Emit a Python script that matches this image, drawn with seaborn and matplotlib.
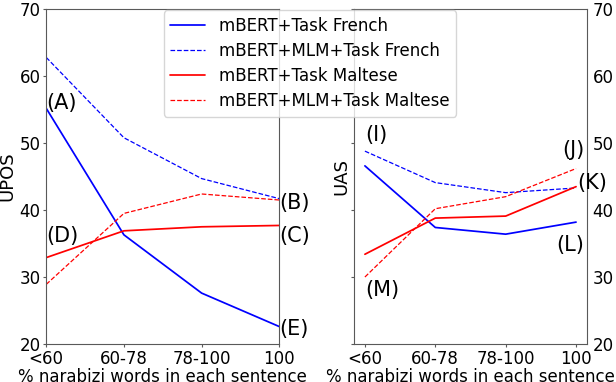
import pandas as pd
import seaborn as sns
import matplotlib
matplotlib.use("Agg")
import matplotlib.pyplot as plt

# %% data _____________________________________________________________________
bins = ['<60', '60-78', '78-100', '100']
series = ['mBERT+Task French', 'mBERT+MLM+Task French',
          'mBERT+Task Maltese', 'mBERT+MLM+Task Maltese']

upos_task_french = [55.2, 36.3, 27.6, 22.6]
upos_mlm_french = [62.8, 50.8, 44.7, 41.7]
upos_task_maltese = [32.9, 36.9, 37.5, 37.7]
upos_mlm_maltese = [28.9, 39.5, 42.4, 41.5]

uas_task_french = [46.6, 37.4, 36.4, 38.2]
uas_mlm_french = [48.8, 44.1, 42.6, 43.3]
uas_task_maltese = [33.4, 38.8, 39.1, 43.5]
uas_mlm_maltese = [30.0, 40.2, 42.0, 46.2]

upos_marks = ['(A)', '(B)', '(C)', '(D)', '(E)']
upos_mark_x = [0, 3, 3, 0, 3]
upos_mark_y = [56.0, 41.0, 36.1, 36.1, 22.2]

uas_marks = ['(I)', '(J)', '(K)', '(L)', '(M)']
uas_mark_x = [0.0, 2.81, 3.01, 2.72, 0.0]
uas_mark_y = [51.2, 49.0, 44.0, 34.8, 28.1]

colors = ['blue', 'blue', 'red', 'red']
styles = ['-', '--', '-', '--']
widths = [1.25, 0.9, 1.25, 0.9]

# %% plot _____________________________________________________________________
sns.set_style("ticks")
plt.rcParams['font.family'] = ['DejaVu Sans']
plt.rcParams['axes.edgecolor'] = '0.35'
plt.rcParams['text.color'] = 'black'
plt.rcParams['axes.labelcolor'] = 'black'
plt.rcParams['xtick.color'] = '0.35'
plt.rcParams['ytick.color'] = '0.35'
plt.rcParams['xtick.labelcolor'] = 'black'
plt.rcParams['ytick.labelcolor'] = 'black'

fig, axs = plt.subplots(1, 2, figsize=(6.16, 3.82), dpi=100)
fig.subplots_adjust(left=0.075, right=0.953, bottom=0.0995, top=0.976, wspace=0.32)

panels = [
    (axs[0], [upos_task_french, upos_mlm_french, upos_task_maltese, upos_mlm_maltese],
     'UPOS', upos_marks, upos_mark_x, upos_mark_y),
    (axs[1], [uas_task_french, uas_mlm_french, uas_task_maltese, uas_mlm_maltese],
     'UAS', uas_marks, uas_mark_x, uas_mark_y),
]

for ax, vals, ylab, marks, mx, my in panels:
    for name, v, c, ls, lw in zip(series, vals, colors, styles, widths):
        df = pd.DataFrame({'bin': bins, 'score': v})
        sns.lineplot(data=df, x='bin', y='score', color=c, linestyle=ls,
                     linewidth=lw, label=name, ax=ax, legend=False)
    for m, x, y in zip(marks, mx, my):
        ax.text(x, y, m, fontsize=15, ha='left', va='center')
    ax.set_ylim(20, 70)
    ax.set_yticks([20, 30, 40, 50, 60, 70])
    ax.set_ylabel(ylab, fontsize=13, labelpad=2)
    ax.set_xlabel('% narabizi words in each sentence', fontsize=12, labelpad=0)
    ax.tick_params(labelsize=12, pad=1.5, length=2.5)

axs[0].set_xlim(0, 3)
axs[1].set_xlim(-0.156, 3.156)
axs[1].tick_params(axis='y', left=True, right=False, labelleft=False, labelright=True)
axs[1].yaxis.labelpad = 0

handles, labels = axs[0].get_legend_handles_labels()
fig.legend(handles, labels, loc='upper center', bbox_to_anchor=(0.503, 0.995),
           fontsize=12, frameon=True, handlelength=2.1, handletextpad=0.8,
           labelspacing=0.42)

fig.savefig('out.png', dpi=100)
